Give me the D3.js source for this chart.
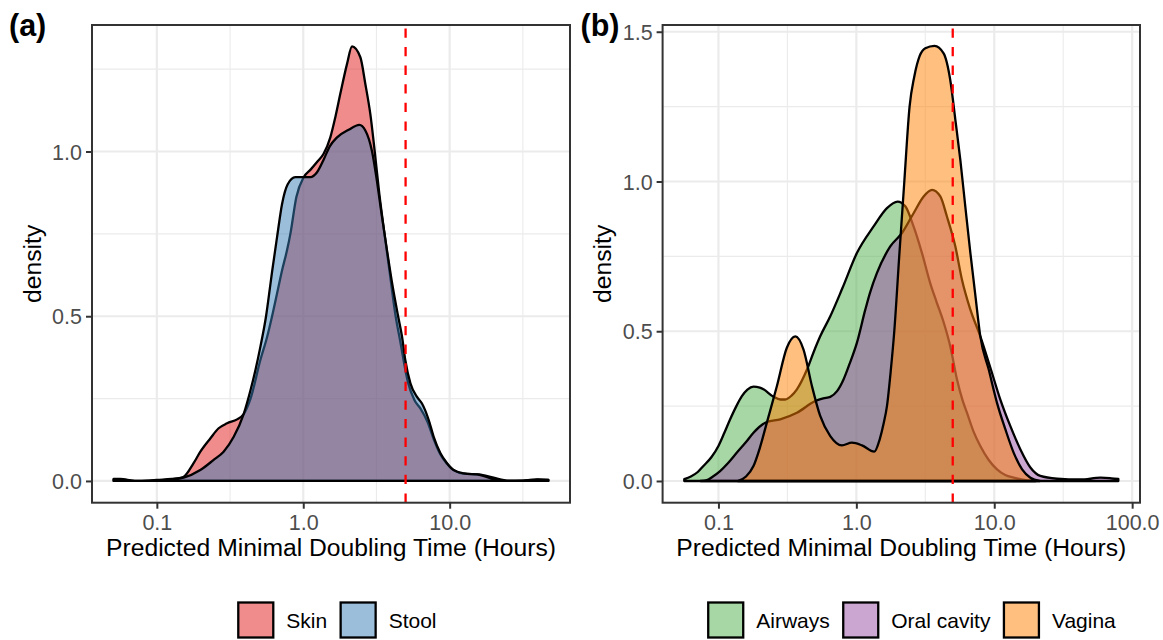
<!DOCTYPE html>
<html>
<head>
<meta charset="utf-8">
<title>Predicted minimal doubling time densities</title>
<script src="https://cdn.jsdelivr.net/npm/d3@7"></script>
<style>
  body { margin: 0; background: #fff; }
  svg { display: block; font-family: "Liberation Sans", Arial, Helvetica, sans-serif; }
</style>
</head>
<body>
<svg width="1163" height="640"></svg>
<script>
// panel (a): density curves (hours, density)
const skinHours = [0.0507, 0.0562, 0.0708, 0.0891, 0.1, 0.1259, 0.1514, 0.1782, 0.1982, 0.2317, 0.2642, 0.302, 0.3532, 0.3917, 0.4365, 0.5093, 0.5662, 0.6124, 0.6622, 0.7161, 0.7745, 0.8166, 0.8974, 1.007, 1.122, 1.242, 1.377, 1.531, 1.656, 1.791, 1.991, 2.153, 2.455, 2.655, 2.871, 3.069, 3.311, 3.589, 3.89, 4.276, 4.571, 5.188, 5.754, 6.31, 7.079, 7.762, 8.61, 9.55, 10.64, 12.59, 15.85, 19.95, 25.12, 31.62, 39.81, 47.2];
const skinDensity = [0.006, 0.006, 0.0, 0.001, 0.003, 0.006, 0.012, 0.054, 0.089, 0.129, 0.16, 0.175, 0.187, 0.203, 0.25, 0.367, 0.437, 0.5, 0.569, 0.639, 0.7, 0.75, 0.862, 0.922, 0.945, 0.968, 0.993, 1.043, 1.104, 1.175, 1.266, 1.319, 1.286, 1.205, 1.114, 1.005, 0.87, 0.75, 0.635, 0.5, 0.43, 0.3, 0.245, 0.22, 0.178, 0.128, 0.082, 0.053, 0.033, 0.022, 0.02, 0.01, 0.001, 0.001, 0.005, 0.003];

const stoolHours = [0.0507, 0.0562, 0.0708, 0.0891, 0.1, 0.1259, 0.1524, 0.198, 0.2443, 0.2858, 0.335, 0.3917, 0.4365, 0.471, 0.5093, 0.557, 0.5957, 0.6124, 0.6622, 0.716, 0.7816, 0.8831, 1.007, 1.119, 1.242, 1.377, 1.514, 1.702, 2.042, 2.415, 2.655, 2.951, 3.162, 3.428, 3.733, 4.046, 4.446, 4.732, 4.977, 5.395, 5.984, 6.471, 7.194, 7.78, 8.65, 9.594, 10.64, 12.47, 16.22, 19.95, 25.12, 31.62, 39.81, 47.2];
const stoolDensity = [0.005, 0.005, 0.0, 0.001, 0.002, 0.005, 0.01, 0.033, 0.064, 0.089, 0.134, 0.203, 0.276, 0.336, 0.407, 0.5, 0.595, 0.635, 0.74, 0.84, 0.9, 0.922, 0.922, 0.922, 0.937, 0.975, 1.015, 1.043, 1.066, 1.081, 1.064, 1.0, 0.92, 0.81, 0.7, 0.6, 0.5, 0.437, 0.367, 0.296, 0.255, 0.235, 0.185, 0.134, 0.084, 0.054, 0.033, 0.023, 0.018, 0.006, 0.0, 0.001, 0.004, 0.003];

// panel (b)
const airwaysHours = [0.0565, 0.0631, 0.0708, 0.0778, 0.0891, 0.1, 0.1102, 0.1216, 0.1349, 0.1479, 0.1622, 0.1795, 0.1995, 0.2123, 0.2512, 0.2818, 0.3048, 0.3388, 0.3707, 0.4385, 0.4898, 0.547, 0.6471, 0.7943, 1.009, 1.334, 1.667, 1.991, 2.265, 2.6, 2.992, 3.436, 3.802, 4.295, 4.797, 5.37, 5.888, 6.339, 7.079, 7.925, 9.12, 10.47, 12.02, 13.84, 17.3, 19.95];
const airwaysDensity = [0.006, 0.015, 0.03, 0.05, 0.08, 0.117, 0.16, 0.206, 0.25, 0.283, 0.305, 0.315, 0.312, 0.306, 0.281, 0.272, 0.272, 0.285, 0.306, 0.372, 0.43, 0.483, 0.55, 0.645, 0.761, 0.85, 0.911, 0.933, 0.917, 0.85, 0.761, 0.66, 0.6, 0.53, 0.45, 0.339, 0.27, 0.228, 0.165, 0.117, 0.07, 0.039, 0.02, 0.011, 0.002, 0.0];

const oralHours = [0.0741, 0.0824, 0.0912, 0.1028, 0.1175, 0.1361, 0.1585, 0.1795, 0.2244, 0.2805, 0.3707, 0.5035, 0.5754, 0.6471, 0.7244, 0.8072, 0.8913, 1.009, 1.161, 1.259, 1.409, 1.762, 2.143, 2.6, 3.076, 3.54, 4.064, 4.539, 5.224, 5.834, 6.714, 7.925, 9.376, 11.07, 13.09, 15.45, 18.28, 21.58, 28.58, 42.17, 58.88, 70.79, 79.4];
const oralDensity = [0.0, 0.003, 0.015, 0.033, 0.06, 0.095, 0.13, 0.161, 0.197, 0.206, 0.228, 0.267, 0.276, 0.281, 0.3, 0.339, 0.39, 0.461, 0.572, 0.63, 0.694, 0.783, 0.828, 0.894, 0.95, 0.972, 0.95, 0.883, 0.783, 0.672, 0.572, 0.483, 0.378, 0.272, 0.183, 0.106, 0.045, 0.017, 0.008, 0.005, 0.011, 0.009, 0.007];

const vaginaHours = [0.138, 0.1585, 0.1795, 0.1995, 0.2244, 0.2655, 0.3133, 0.3606, 0.414, 0.4764, 0.547, 0.6471, 0.7852, 0.929, 1.099, 1.349, 1.479, 1.574, 1.667, 1.778, 1.884, 2.046, 2.228, 2.432, 2.63, 2.884, 3.162, 3.69, 4.295, 4.797, 5.224, 5.675, 6.166, 6.714, 7.295, 7.925, 9.12, 10.47, 12.05, 13.84, 15.92, 18.28, 21.38];
const vaginaDensity = [0.0, 0.015, 0.05, 0.11, 0.195, 0.317, 0.445, 0.483, 0.439, 0.317, 0.217, 0.15, 0.119, 0.128, 0.119, 0.098, 0.14, 0.19, 0.25, 0.37, 0.5, 0.75, 1.0, 1.25, 1.35, 1.42, 1.445, 1.453, 1.428, 1.339, 1.206, 1.072, 0.917, 0.761, 0.62, 0.483, 0.372, 0.261, 0.172, 0.094, 0.039, 0.011, 0.0];

// axes
const xTicksA = [0.1, 1, 10];
const xTicksB = [0.1, 1, 10, 100];
const xMinorTicks = [0.3162, 3.162, 31.62];
const yTicksA = [0, 0.5, 1.0];
const yTicksB = [0, 0.5, 1.0, 1.5];
const yMinorTicks = [0.25, 0.75, 1.25];
const cutoffHours = 5;

const groupsA = ["Skin", "Stool"];
const groupsB = ["Airways", "Oral cavity", "Vagina"];

const svg = d3.select("svg");

function toPoints(hours, dens) {
  return hours.map((h, i) => ({h: h, v: dens[i]}));
}

function drawPanel(p) {
  const x = d3.scaleLog().domain(p.xDomain).range([p.left, p.right]);
  const y = d3.scaleLinear().domain(p.yDomain).range([p.bottom, p.top]);
  const g = svg.append("g");

  g.append("clipPath").attr("id", p.id + "-clip")
    .append("rect")
    .attr("x", p.left).attr("y", p.top)
    .attr("width", p.right - p.left).attr("height", p.bottom - p.top);

  // grid, minor first
  g.selectAll(".gx-minor").data(xMinorTicks).join("line")
    .attr("x1", d => x(d)).attr("x2", d => x(d))
    .attr("y1", p.top).attr("y2", p.bottom)
    .attr("stroke", "#ebebeb").attr("stroke-width", 1.1);
  g.selectAll(".gy-minor").data(yMinorTicks).join("line")
    .attr("x1", p.left).attr("x2", p.right)
    .attr("y1", d => y(d)).attr("y2", d => y(d))
    .attr("stroke", "#ebebeb").attr("stroke-width", 1.1);
  g.selectAll(".gx-major").data(p.xTicks).join("line")
    .attr("x1", d => x(d)).attr("x2", d => x(d))
    .attr("y1", p.top).attr("y2", p.bottom)
    .attr("stroke", "#ebebeb").attr("stroke-width", 2.2);
  g.selectAll(".gy-major").data(p.yTicks).join("line")
    .attr("x1", p.left).attr("x2", p.right)
    .attr("y1", d => y(d)).attr("y2", d => y(d))
    .attr("stroke", "#ebebeb").attr("stroke-width", 2.2);

  // densities, in group order
  const area = d3.area()
    .x(d => x(d.h))
    .y0(y(0))
    .y1(d => y(d.v))
    .curve(d3.curveMonotoneX);

  const plot = g.append("g").attr("clip-path", `url(#${p.id}-clip)`);
  p.series.forEach(s => {
    plot.append("path")
      .datum(s.points)
      .attr("d", area)
      .attr("fill", s.color)
      .attr("fill-opacity", 0.5)
      .attr("stroke", "#000")
      .attr("stroke-width", 2.3)
      .attr("stroke-linejoin", "round");
  });

  plot.append("line")
    .attr("x1", x(cutoffHours)).attr("x2", x(cutoffHours))
    .attr("y1", p.bottom).attr("y2", p.top)
    .attr("stroke", "#ff0000").attr("stroke-width", 2.3)
    .attr("stroke-dasharray", "9.3,9.3");

  // border
  g.append("rect")
    .attr("x", p.left).attr("y", p.top)
    .attr("width", p.right - p.left).attr("height", p.bottom - p.top)
    .attr("fill", "none").attr("stroke", "#333333").attr("stroke-width", 2);

  // axes
  const xa = g.append("g")
    .attr("transform", `translate(0,${p.bottom})`)
    .call(d3.axisBottom(x).tickValues(p.xTicks).tickFormat(d3.format(".1f")).tickSize(6).tickPadding(6.5));
  const ya = g.append("g")
    .attr("transform", `translate(${p.left},0)`)
    .call(d3.axisLeft(y).tickValues(p.yTicks).tickFormat(d3.format(".1f")).tickSize(6).tickPadding(4));
  [xa, ya].forEach(a => {
    a.attr("font-size", null).attr("font-family", null);
    a.select(".domain").remove();
    a.selectAll(".tick line").attr("stroke", "#333333").attr("stroke-width", 2);
    a.selectAll(".tick text").attr("fill", "#4d4d4d").style("font-size", "21.5px");
  });
  ya.selectAll(".tick text").attr("dy", "0.36em");

  // titles
  g.append("text")
    .attr("x", (p.left + p.right) / 2).attr("y", 556)
    .attr("text-anchor", "middle")
    .style("font-size", "24.7px")
    .text("Predicted Minimal Doubling Time (Hours)");
  g.append("text")
    .attr("transform", `translate(${p.yTitleX},${(p.top + p.bottom) / 2}) rotate(-90)`)
    .attr("text-anchor", "middle")
    .style("font-size", "24.7px")
    .text("density");

  g.append("text")
    .attr("x", p.tagX).attr("y", 35.5)
    .style("font-size", "30.5px").style("font-weight", "bold")
    .text(p.tag);

  // legend, centred under the panel
  const keySize = 35, keyGap = 13, itemGap = 13.5;
  const leg = g.append("g").attr("transform", "translate(0,602.5)");
  const items = leg.selectAll("g").data(p.series).join("g");
  items.append("rect")
    .attr("width", keySize).attr("height", keySize)
    .attr("fill", d => d.color).attr("fill-opacity", 0.5)
    .attr("stroke", "#000").attr("stroke-width", 2.3);
  items.append("text")
    .attr("x", keySize + keyGap).attr("y", 25.5)
    .style("font-size", "21px")
    .text(d => d.name);
  let widths = [];
  items.each(function() { widths.push(keySize + keyGap + this.querySelector("text").getComputedTextLength()); });
  const total = d3.sum(widths) + itemGap * (widths.length - 1);
  let cx = p.legendCenter - total / 2;
  items.attr("transform", (d, i) => {
    const t = `translate(${cx},0)`;
    cx += widths[i] + itemGap;
    return t;
  });
}

drawPanel({
  id: "a", tag: "(a)", tagX: 9,
  left: 92, right: 570, top: 25, bottom: 502.7,
  xDomain: [0.03606, 66.37], yDomain: [-0.066, 1.384],
  xTicks: xTicksA, yTicks: yTicksA,
  yTitleX: 41, legendCenter: 337.4,
  series: [
    {name: groupsA[0], color: "#E41A1C", points: toPoints(skinHours, skinDensity)},
    {name: groupsA[1], color: "#377EB8", points: toPoints(stoolHours, stoolDensity)}
  ]
});

drawPanel({
  id: "b", tag: "(b)", tagX: 580.5,
  left: 662.6, right: 1140, top: 25, bottom: 502.7,
  xDomain: [0.03936, 114.0], yDomain: [-0.0725, 1.5225],
  xTicks: xTicksB, yTicks: yTicksB,
  yTitleX: 611, legendCenter: 912,
  series: [
    {name: groupsB[0], color: "#4DAF4A", points: toPoints(airwaysHours, airwaysDensity)},
    {name: groupsB[1], color: "#984EA3", points: toPoints(oralHours, oralDensity)},
    {name: groupsB[2], color: "#FF7F00", points: toPoints(vaginaHours, vaginaDensity)}
  ]
});
</script>
</body>
</html>
